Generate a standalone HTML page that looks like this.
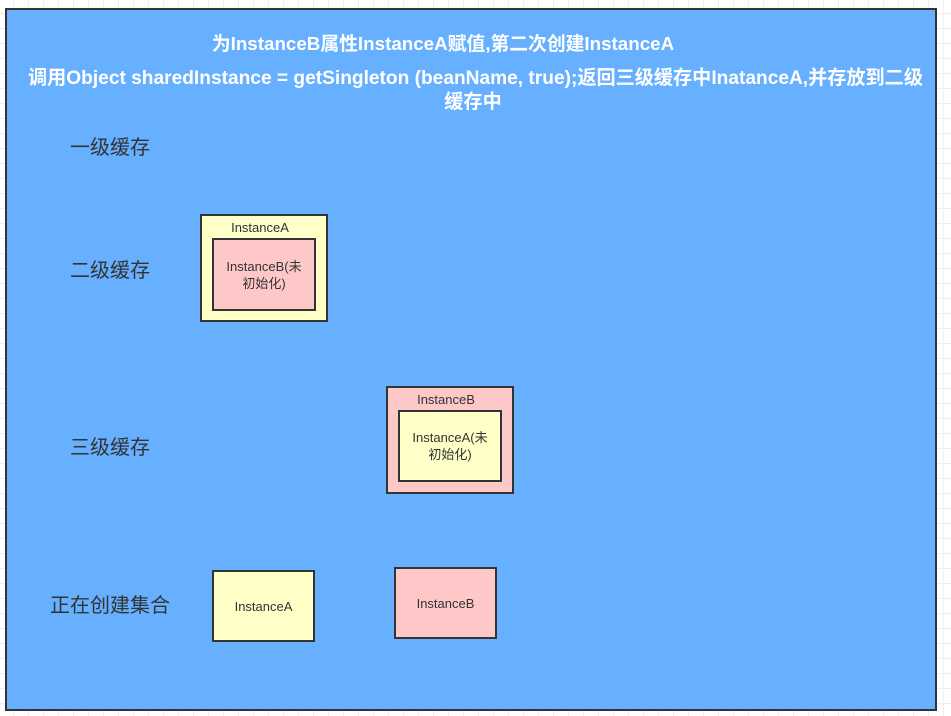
<!DOCTYPE html>
<html><head><meta charset="utf-8"><style>
body{margin:0;width:951px;height:716px;overflow:hidden;position:relative;font-family:"Liberation Sans","Noto Sans CJK SC",sans-serif;
background-color:#fff;background-image:linear-gradient(#eee 1px,transparent 1px),linear-gradient(90deg,#eee 1px,transparent 1px);background-size:15px 15px;background-position:-2px -2px}
.big{position:absolute;left:5px;top:8px;width:932px;height:703px;background:#66b0ff;border:2px solid #333;box-sizing:border-box}
.t{position:absolute;color:#fff;font-weight:bold;font-size:18.8px;text-align:center;white-space:nowrap}
.l{position:absolute;color:#333;font-size:20px;white-space:nowrap}
.box{position:absolute;box-sizing:border-box;border:2px solid #333;font-size:13px;color:#333;display:flex;align-items:center;justify-content:center;text-align:center;line-height:17px}
.y{background:#ffffc8}.p{background:#ffc8c8}
.s{position:absolute;font-size:13px;color:#333;white-space:nowrap;text-align:center}
</style></head><body>
<div class="big"></div>
<div class="t" style="left:0;width:886px;top:29px">为InstanceB属性InstanceA赋值,第二次创建InstanceA</div>
<div class="t" style="left:28px;top:62px;font-size:19.15px">调用Object sharedInstance = getSingleton (beanName, true);返回三级缓存中InatanceA,并存放到二级</div>
<div class="t" style="left:0;width:946px;top:86px;font-size:19.15px">缓存中</div>
<div class="l" style="left:70px;top:131px">一级缓存</div>
<div class="l" style="left:70px;top:254px">二级缓存</div>
<div class="l" style="left:70px;top:431px">三级缓存</div>
<div class="l" style="left:50px;top:589px">正在创建集合</div>
<div class="box y" style="left:200px;top:214px;width:128px;height:108px"></div>
<div class="s" style="left:200px;width:120px;top:220px">InstanceA</div>
<div class="box p" style="left:212px;top:238px;width:104px;height:73px">InstanceB(未<br>初始化)</div>
<div class="box p" style="left:386px;top:386px;width:128px;height:108px"></div>
<div class="s" style="left:386px;width:120px;top:392px">InstanceB</div>
<div class="box y" style="left:398px;top:410px;width:104px;height:72px">InstanceA(未<br>初始化)</div>
<div class="box y" style="left:212px;top:570px;width:103px;height:72px">InstanceA</div>
<div class="box p" style="left:394px;top:567px;width:103px;height:72px">InstanceB</div>
</body></html>
